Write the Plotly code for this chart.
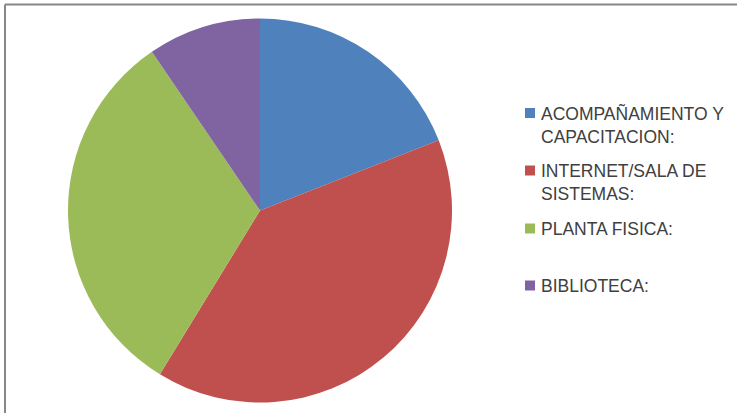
import plotly.graph_objects as go

# Survey categories and their counts
categories = [
    "ACOMPAÑAMIENTO Y<br>CAPACITACION:",
    "INTERNET/SALA DE<br>SISTEMAS:",
    "PLANTA FISICA:",
    "BIBLIOTECA:",
]
counts = [12, 25, 20, 6]
colors = ["#4F81BD", "#C0504D", "#9BBB59", "#8064A2"]

W, H = 737, 413
TEXT_COLOR = "#404040"

# Pie geometry (pixels)
cx, cy, r = 260, 210.5, 192

fig = go.Figure()
fig.add_trace(
    go.Pie(
        labels=categories,
        values=counts,
        sort=False,
        direction="clockwise",
        rotation=0,
        textinfo="none",
        hoverinfo="label+value+percent",
        marker=dict(colors=colors, line=dict(width=0)),
        showlegend=False,
        domain=dict(
            x=[(cx - r) / W, (cx + r) / W],
            y=[(H - (cy + r)) / H, (H - (cy - r)) / H],
        ),
    )
)

# Legend drawn at the right: colored square + wrapped label per category
legend_centers = [124.5, 182, 228.5, 285.5]  # vertical center of each entry (px)
line_h = 23
shapes = []
annotations = []
for label, color, yc in zip(categories, colors, legend_centers):
    n_lines = label.count("<br>") + 1
    first_line_y = yc - (n_lines - 1) * line_h / 2
    shapes.append(
        dict(
            type="rect", xref="paper", yref="paper",
            x0=525 / W, x1=535 / W,
            y0=(H - (first_line_y + 5)) / H, y1=(H - (first_line_y - 5)) / H,
            fillcolor=color, line=dict(width=0),
        )
    )
    annotations.append(
        dict(
            text=label, xref="paper", yref="paper",
            x=539 / W, y=(H - yc) / H,
            xanchor="left", yanchor="middle", align="left",
            showarrow=False,
            font=dict(family="Liberation Sans, Arial, sans-serif", size=17.5, color=TEXT_COLOR),
        )
    )

# Chart frame (top and left edges)
frame = dict(color="#878787", width=2)
shapes.append(dict(type="line", xref="paper", yref="paper",
                   x0=5 / W, x1=1, y0=(H - 4.5) / H, y1=(H - 4.5) / H, line=frame))
shapes.append(dict(type="line", xref="paper", yref="paper",
                   x0=5 / W, x1=5 / W, y0=0, y1=(H - 4.5) / H, line=frame))

fig.update_layout(
    width=W, height=H,
    margin=dict(l=0, r=0, t=0, b=0),
    paper_bgcolor="white",
    plot_bgcolor="white",
    shapes=shapes,
    annotations=annotations,
)

fig.write_html("out.html")
